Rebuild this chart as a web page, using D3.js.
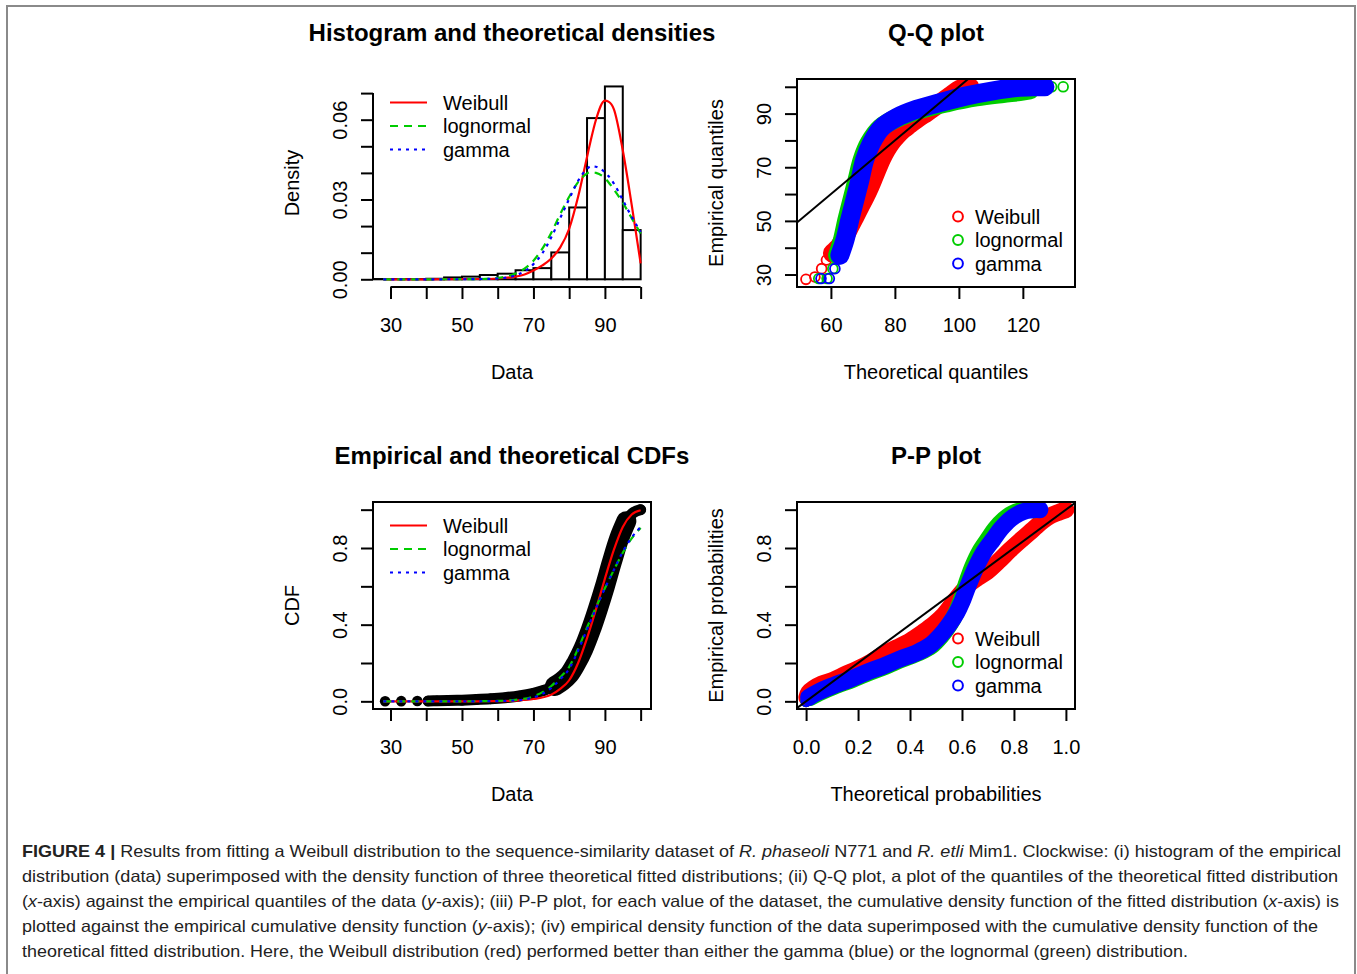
<!DOCTYPE html>
<head>
<meta charset="utf-8">
<script src="https://cdnjs.cloudflare.com/ajax/libs/d3/7.9.0/d3.min.js"></script>
<style>
  body { margin: 0; background: #fff; }
  svg text { font-family: "Liberation Sans", Arial, sans-serif; }
</style>
</head>
<body>
<div id="chart"></div>
</body>
<script>

// ---- data ----

// histogram: breaks and densities
const histBreaks = [25, 30, 35, 40, 45, 50, 55, 60, 65, 70, 75, 80, 85, 90, 95, 100]
const histDensity = [0.0001, 0.0001, 0.0001, 0.0002, 0.0007, 0.001, 0.0016, 0.0021, 0.0034, 0.0042, 0.0101, 0.027, 0.0606, 0.0725, 0.0185]

// fitted densities
const densX       = [28, 40, 50, 55, 60, 65, 67.5, 70, 72.5, 75, 77.5, 80, 82.5, 85, 86, 87.5, 90, 91, 92.5, 95, 97.5, 100]
const densWeibull = [0, 0, 0.0001, 0.0001, 0.0003, 0.001, 0.0018, 0.0033, 0.0052, 0.0078, 0.012, 0.019, 0.031, 0.046, 0.052, 0.06, 0.0672, 0.0668, 0.064, 0.0485, 0.028, 0.006]
const densLognorm = [0, 0, 0.00005, 0.0001, 0.0005, 0.0022, 0.004, 0.007, 0.0115, 0.0175, 0.0245, 0.031, 0.0365, 0.0398, 0.0403, 0.04, 0.038, 0.0365, 0.0338, 0.0288, 0.023, 0.0172]
const densGamma   = [0, 0, 0.00002, 0.0001, 0.0003, 0.0015, 0.003, 0.0057, 0.0098, 0.0158, 0.023, 0.0302, 0.037, 0.0415, 0.0424, 0.0423, 0.0402, 0.0388, 0.036, 0.0298, 0.0235, 0.0178]

// empirical CDF points (data value, F)
const ecdfPts = [[28.5,0.0005],[33,0.001],[37.5,0.0015],[40.5,0.002],[43,0.003],[46,0.004],[50,0.006],[54,0.009],[58,0.013],[62,0.019],[66,0.028],[70,0.042],[73,0.058],[76,0.08],[78,0.105],[80,0.14],[82,0.2],[84,0.275],[86,0.37],[88,0.48],[90,0.6],[92,0.73],[94,0.85],[96,0.94],[98,0.985],[100,1.0]]

// fitted CDFs
const cdfX       = [28, 50, 55, 60, 65, 70, 75, 77.5, 80, 82.5, 85, 87.5, 90, 92.5, 95, 97.5, 100]
const cdfWeibull = [0, 0, 0.0003, 0.001, 0.004, 0.012, 0.035, 0.065, 0.11, 0.2, 0.33, 0.48, 0.64, 0.79, 0.91, 0.975, 0.997]
const cdfLognorm = [0, 0.0002, 0.0007, 0.002, 0.008, 0.026, 0.08, 0.125, 0.18, 0.275, 0.385, 0.49, 0.59, 0.685, 0.775, 0.85, 0.905]
const cdfGamma   = [0, 0.0001, 0.0003, 0.001, 0.005, 0.02, 0.07, 0.115, 0.17, 0.265, 0.375, 0.485, 0.59, 0.685, 0.78, 0.855, 0.91]

// Q-Q points (theoretical, empirical)
const qqWeibull = [[52.2,28.2],[55,29.1],[57.1,32.2],[58.6,35.4],[60.5,38],[62.8,40.8],[64.5,44.5],[65.9,47.8],[67.5,51.5],[69.1,55.3],[70.7,59],[72.2,62.8],[73.5,66.5],[74.8,70.3],[76,73.5],[77.4,76.6],[78.8,79.2],[80.5,81.6],[82.5,84],[84.7,86],[87.2,88.3],[89.9,90.4],[92.5,92.6],[95.1,94.7],[97.7,96.9],[100.3,99.1],[103.4,100]]
const qqLognorm = [[56.2,28.5],[58.8,28.5],[60.6,32.2],[62.1,37.2],[63.6,42.9],[65,50.4],[66.6,57.9],[68.2,65.4],[69.8,72.9],[72,79.1],[75.5,84.7],[81,88.5],[88,91.6],[96.5,94.1],[105.5,96.2],[113.8,97.5],[119,98.2],[122.2,98.8],[124.1,99.4],[129,100],[132.6,100]]
const qqGamma   = [[56.9,28.5],[59.5,28.5],[61.25,32.2],[62.8,37.2],[64.4,42.9],[65.9,50.4],[67.5,57.9],[69.1,65.4],[70.6,72.9],[72.7,79.1],[75.8,84.7],[80.5,88.5],[86.8,91.6],[94.1,94.1],[102.4,96.6],[110.7,98.5],[118,99.7],[123.2,100],[126.9,100]]

// P-P points (theoretical, empirical)
const ppWeibull = [[0,0],[0.003,0.02],[0.01,0.045],[0.03,0.068],[0.06,0.09],[0.105,0.111],[0.15,0.14],[0.195,0.167],[0.25,0.205],[0.297,0.245],[0.35,0.28],[0.4,0.315],[0.45,0.36],[0.49,0.4],[0.53,0.45],[0.567,0.515],[0.6,0.57],[0.63,0.615],[0.66,0.645],[0.695,0.675],[0.74,0.73],[0.785,0.79],[0.83,0.845],[0.874,0.897],[0.91,0.94],[0.938,0.967],[0.97,0.985],[1,1]]
const ppLognorm = [[0,0],[0.015,0.02],[0.05,0.045],[0.11,0.08],[0.18,0.115],[0.242,0.15],[0.308,0.184],[0.37,0.22],[0.435,0.254],[0.483,0.29],[0.52,0.341],[0.552,0.4],[0.578,0.463],[0.595,0.52],[0.61,0.584],[0.625,0.645],[0.642,0.706],[0.668,0.78],[0.7,0.845],[0.728,0.9],[0.762,0.949],[0.795,0.98],[0.825,0.995],[0.85,1],[0.88,1]]
const ppGamma   = [[0,0],[0.01,0.02],[0.041,0.045],[0.1,0.08],[0.169,0.115],[0.23,0.15],[0.297,0.184],[0.36,0.22],[0.426,0.254],[0.475,0.29],[0.515,0.341],[0.55,0.4],[0.58,0.463],[0.6,0.52],[0.618,0.584],[0.636,0.645],[0.656,0.706],[0.685,0.78],[0.72,0.845],[0.75,0.9],[0.785,0.949],[0.82,0.98],[0.849,0.995],[0.875,1],[0.9,1]]

// legend names
const distNames = ["Weibull", "lognormal", "gamma"]

// ticks and tick labels
const histXTicks = [30, 40, 50, 60, 70, 80, 90, 100]
const histXLabels = ["30", "", "50", "", "70", "", "90", ""]
const histYTicks = [0, 0.01, 0.02, 0.03, 0.04, 0.05, 0.06, 0.07]
const histYLabels = ["0.00", "", "", "0.03", "", "", "0.06", ""]
const qqXTicks = [60, 80, 100, 120]
const qqXLabels = ["60", "80", "100", "120"]
const qqYTicks = [30, 40, 50, 60, 70, 80, 90, 100]
const qqYLabels = ["30", "", "50", "", "70", "", "90", ""]
const probTicks = [0, 0.2, 0.4, 0.6, 0.8, 1]
const probYLabels = ["0.0", "", "0.4", "", "0.8", ""]
const ppXLabels = ["0.0", "0.2", "0.4", "0.6", "0.8", "1.0"]

// caption text, as [text, style] runs
const captionLines = [
  [["FIGURE 4 | ", "b"], ["Results from fitting a Weibull distribution to the sequence-similarity dataset of ", ""], ["R. phaseoli", "i"], [" N771 and ", ""], ["R. etli", "i"], [" Mim1. Clockwise: (i) histogram of the empirical", ""]],
  [["distribution (data) superimposed with the density function of three theoretical fitted distributions; (ii) Q-Q plot, a plot of the quantiles of the theoretical fitted distribution", ""]],
  [["(", ""], ["x", "i"], ["-axis) against the empirical quantiles of the data (", ""], ["y", "i"], ["-axis); (iii) P-P plot, for each value of the dataset, the cumulative density function of the fitted distribution (", ""], ["x", "i"], ["-axis) is", ""]],
  [["plotted against the empirical cumulative density function (", ""], ["y", "i"], ["-axis); (iv) empirical density function of the data superimposed with the cumulative density function of the", ""]],
  [["theoretical fitted distribution. Here, the Weibull distribution (red) performed better than either the gamma (blue) or the lognormal (green) distribution.", ""]]
]

// ---- layout ----

const W = 1357, H = 974
const colors = ["#ff0000", "#00cc00", "#0000ff"]
const dashes = [null, "8,6", "3,5"]

const svg = d3.select("#chart").append("svg")
  .attr("width", W).attr("height", H)

svg.append("rect").attr("width", W).attr("height", H).attr("fill", "#fff")

// figure frame
svg.append("rect")
  .attr("x", 7).attr("y", 6).attr("width", 1348).attr("height", 1000)
  .attr("fill", "none").attr("stroke", "#8a8a8a").attr("stroke-width", 2)

const regions = {
  hist: {left: 373, right: 651, top: 79, bottom: 287},
  qq:   {left: 797, right: 1075, top: 79, bottom: 287},
  cdf:  {left: 373, right: 651, top: 502, bottom: 709},
  pp:   {left: 797, right: 1075, top: 502, bottom: 709}
}

function scales(r, xd, yd) {
  return {
    x: d3.scaleLinear().domain(xd).range([r.left, r.right]),
    y: d3.scaleLinear().domain(yd).range([r.bottom, r.top])
  }
}

function clipFor(name, r) {
  svg.append("clipPath").attr("id", "clip-" + name)
    .append("rect").attr("x", r.left).attr("y", r.top)
    .attr("width", r.right - r.left).attr("height", r.bottom - r.top)
  return svg.append("g").attr("clip-path", `url(#clip-${name})`)
}

function styleAxis(g) {
  g.attr("font-size", null).attr("font-family", null)
  g.select(".domain").remove()
  g.selectAll(".tick line").attr("stroke", "#000").attr("stroke-width", 2)
  g.selectAll(".tick text").attr("fill", "#000").style("font-size", "20px")
}

function xAxis(sc, yPos, ticks, labels) {
  const g = svg.append("g").attr("transform", `translate(0,${yPos})`)
    .call(d3.axisBottom(sc).tickValues(ticks).tickSize(12).tickFormat((d, i) => labels[i]))
  styleAxis(g)
  g.selectAll(".tick text").attr("y", 45).attr("dy", null)
  g.append("line")
    .attr("x1", sc(ticks[0])).attr("x2", sc(ticks[ticks.length - 1]))
    .attr("stroke", "#000").attr("stroke-width", 2)
}

function yAxis(sc, xPos, ticks, labels) {
  const g = svg.append("g").attr("transform", `translate(${xPos},0)`)
    .call(d3.axisLeft(sc).tickValues(ticks).tickSize(12).tickFormat((d, i) => labels[i]))
  styleAxis(g)
  g.selectAll(".tick text")
    .attr("transform", "rotate(-90)")
    .attr("x", 0).attr("y", -26).attr("dy", null)
    .attr("text-anchor", "middle")
  g.append("line")
    .attr("y1", sc(ticks[0])).attr("y2", sc(ticks[ticks.length - 1]))
    .attr("stroke", "#000").attr("stroke-width", 2)
}

function box(r) {
  svg.append("rect")
    .attr("x", r.left).attr("y", r.top)
    .attr("width", r.right - r.left).attr("height", r.bottom - r.top)
    .attr("fill", "none").attr("stroke", "#000").attr("stroke-width", 2)
}

function titles(r, main, xlab, ylab) {
  const cx = (r.left + r.right) / 2
  const cy = (r.top + r.bottom) / 2
  svg.append("text").attr("x", cx).attr("y", r.top - 38)
    .attr("text-anchor", "middle").style("font-size", "24px").style("font-weight", "bold")
    .text(main)
  svg.append("text").attr("x", cx).attr("y", r.bottom + 92)
    .attr("text-anchor", "middle").style("font-size", "20px")
    .text(xlab)
  svg.append("text")
    .attr("transform", `translate(${r.left - 74},${cy}) rotate(-90)`)
    .attr("text-anchor", "middle").style("font-size", "20px")
    .text(ylab)
}

function lineLegend(r) {
  distNames.forEach((name, i) => {
    const yy = r.top + 23.5 * (i + 1)
    svg.append("line")
      .attr("x1", r.left + 17).attr("x2", r.left + 54)
      .attr("y1", yy).attr("y2", yy)
      .attr("stroke", colors[i]).attr("stroke-width", 2.2)
      .attr("stroke-dasharray", dashes[i])
    svg.append("text").attr("x", r.left + 70).attr("y", yy + 7)
      .style("font-size", "20px").text(name)
  })
}

function pointLegend(r) {
  distNames.forEach((name, i) => {
    const yy = r.bottom - 23.5 * (3 - i)
    svg.append("circle").attr("cx", r.right - 117).attr("cy", yy).attr("r", 4.9)
      .attr("fill", "none").attr("stroke", colors[i]).attr("stroke-width", 2)
    svg.append("text").attr("x", r.right - 100).attr("y", yy + 7)
      .style("font-size", "20px").text(name)
  })
}

// band of heavily overlapping circles: thick stroke along the points + the circles
function drawBand(g, pts, sc, color, width, from, to) {
  const line = d3.line().x(d => sc.x(d[0])).y(d => sc.y(d[1])).curve(d3.curveCatmullRom)
  g.append("path").datum(pts.slice(from, to + 1))
    .attr("d", line)
    .attr("fill", "none").attr("stroke", color).attr("stroke-width", width)
    .attr("stroke-linecap", "round").attr("stroke-linejoin", "round")
  g.append("g").selectAll("circle").data(pts).join("circle")
    .attr("cx", d => sc.x(d[0])).attr("cy", d => sc.y(d[1])).attr("r", 4.9)
    .attr("fill", "none").attr("stroke", color).attr("stroke-width", 1.8)
}

// ---- panel 1: histogram and theoretical densities ----
{
  const r = regions.hist
  const sc = scales(r, [25.1, 102.9], [-0.0029, 0.0753])
  const g = clipFor("hist", r)

  g.selectAll("rect").data(histDensity).join("rect")
    .attr("x", (d, i) => sc.x(histBreaks[i]))
    .attr("width", (d, i) => sc.x(histBreaks[i + 1]) - sc.x(histBreaks[i]))
    .attr("y", d => sc.y(d))
    .attr("height", d => sc.y(0) - sc.y(d))
    .attr("fill", "#fff").attr("stroke", "#000").attr("stroke-width", 2)

  const line = d3.line().x((d, i) => sc.x(densX[i])).y(d => sc.y(d)).curve(d3.curveMonotoneX);
  [densWeibull, densLognorm, densGamma].forEach((s, i) => {
    g.append("path").datum(s).attr("d", line)
      .attr("fill", "none").attr("stroke", colors[i]).attr("stroke-width", 2.2)
      .attr("stroke-dasharray", dashes[i])
  })

  xAxis(sc.x, r.bottom, histXTicks, histXLabels)
  yAxis(sc.y, r.left, histYTicks, histYLabels)
  titles(r, "Histogram and theoretical densities", "Data", "Density")
  lineLegend(r)
}

// ---- panel 2: Q-Q plot ----
{
  const r = regions.qq
  const sc = scales(r, [49.4, 136.3], [25.35, 102.9])
  const g = clipFor("qq", r)

  drawBand(g, qqWeibull, sc, colors[0], 19, 4, qqWeibull.length - 1)
  drawBand(g, qqLognorm, sc, colors[1], 19, 3, 17)
  drawBand(g, qqGamma, sc, colors[2], 19, 3, 18)

  g.append("line")
    .attr("x1", sc.x(49.4)).attr("y1", sc.y(49.4))
    .attr("x2", sc.x(136.3)).attr("y2", sc.y(136.3))
    .attr("stroke", "#000").attr("stroke-width", 2)

  box(r)
  xAxis(sc.x, r.bottom, qqXTicks, qqXLabels)
  yAxis(sc.y, r.left, qqYTicks, qqYLabels)
  titles(r, "Q-Q plot", "Theoretical quantiles", "Empirical quantiles")
  pointLegend(r)
}

// ---- panel 3: empirical and theoretical CDFs ----
{
  const r = regions.cdf
  const sc = scales(r, [25.1, 102.9], [-0.04, 1.04])
  const g = clipFor("cdf", r)

  const pl = d3.line().x(d => sc.x(d[0])).y(d => sc.y(d[1])).curve(d3.curveCatmullRom)
  g.append("path").datum(ecdfPts.slice(3)).attr("d", pl)
    .attr("fill", "none").attr("stroke", "#000").attr("stroke-width", 11)
    .attr("stroke-linecap", "round").attr("stroke-linejoin", "round")
  g.append("path").datum(ecdfPts.filter(d => d[1] >= 0.06 && d[1] <= 0.95)).attr("d", pl)
    .attr("fill", "none").attr("stroke", "#000").attr("stroke-width", 20)
    .attr("stroke-linecap", "round").attr("stroke-linejoin", "round")
  g.selectAll("circle").data(ecdfPts).join("circle")
    .attr("cx", d => sc.x(d[0])).attr("cy", d => sc.y(d[1])).attr("r", 5.3)
    .attr("fill", "#000")

  const line = d3.line().x((d, i) => sc.x(cdfX[i])).y(d => sc.y(d)).curve(d3.curveMonotoneX);
  [cdfWeibull, cdfLognorm, cdfGamma].forEach((s, i) => {
    g.append("path").datum(s).attr("d", line)
      .attr("fill", "none").attr("stroke", colors[i]).attr("stroke-width", 2.2)
      .attr("stroke-dasharray", dashes[i])
  })

  box(r)
  xAxis(sc.x, r.bottom, histXTicks, histXLabels)
  yAxis(sc.y, r.left, probTicks, probYLabels)
  titles(r, "Empirical and theoretical CDFs", "Data", "CDF")
  lineLegend(r)
}

// ---- panel 4: P-P plot ----
{
  const r = regions.pp
  const sc = scales(r, [-0.035, 1.035], [-0.04, 1.04])
  const g = clipFor("pp", r)

  drawBand(g, ppWeibull, sc, colors[0], 17, 1, ppWeibull.length - 1)
  drawBand(g, ppLognorm, sc, colors[1], 17, 1, ppLognorm.length - 1)
  drawBand(g, ppGamma, sc, colors[2], 17, 1, ppGamma.length - 1)

  g.append("line")
    .attr("x1", sc.x(-0.04)).attr("y1", sc.y(-0.04))
    .attr("x2", sc.x(1.04)).attr("y2", sc.y(1.04))
    .attr("stroke", "#000").attr("stroke-width", 2)

  box(r)
  xAxis(sc.x, r.bottom, probTicks, ppXLabels)
  yAxis(sc.y, r.left, probTicks, probYLabels)
  titles(r, "P-P plot", "Theoretical probabilities", "Empirical probabilities")
  pointLegend(r)
}

// ---- caption ----
const capWidths = [1319, 1316, 1317, 1296, 1166]
captionLines.forEach((runs, i) => {
  const t = svg.append("text")
    .attr("x", 22).attr("y", 857 + 25 * i)
    .attr("textLength", capWidths[i]).attr("lengthAdjust", "spacingAndGlyphs")
    .style("font-size", "16.5px").attr("fill", "#222")
  runs.forEach(([txt, st]) => {
    t.append("tspan").text(txt)
      .style("font-weight", st === "b" ? "bold" : null)
      .style("font-style", st === "i" ? "italic" : null)
  })
})

</script>
